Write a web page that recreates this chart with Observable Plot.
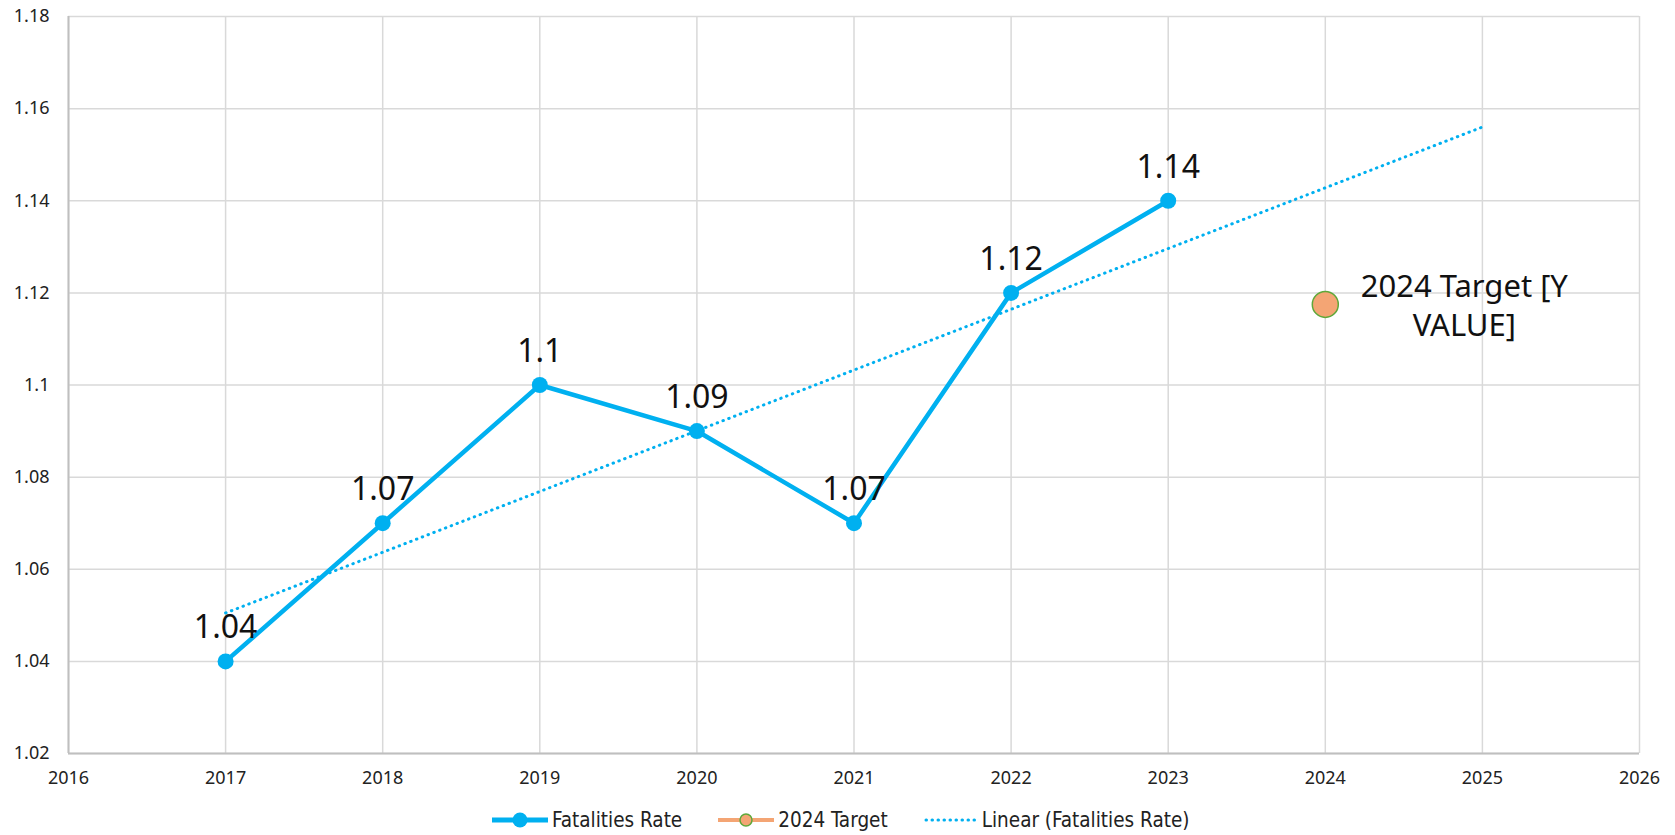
<!DOCTYPE html>
<html>
<head>
<meta charset="utf-8">
<script src="https://cdn.jsdelivr.net/npm/d3@7"></script>
<script src="https://cdn.jsdelivr.net/npm/@observablehq/plot@0.6"></script>
<style>
  html, body { margin: 0; padding: 0; background: #fff; }
  #wrap { position: relative; width: 1675px; height: 835px; overflow: hidden; }
  #legend { position: absolute; left: 492px; top: 804px; height: 32px; display: flex; align-items: center;
    font-family: "Liberation Sans Narrow", "DejaVu Sans Condensed", "Roboto", sans-serif; font-size: 20.5px; color: #222; }
  .item { display: flex; align-items: center; margin-right: 36px; }
  .item svg { margin-right: 4px; }
</style>
</head>
<body>
<div id="wrap"></div>
<script>
// ---- data ----
const years = [2017, 2018, 2019, 2020, 2021, 2022, 2023];
const rates = [1.04, 1.07, 1.10, 1.09, 1.07, 1.12, 1.14];
const rateLabels = ["1.04", "1.07", "1.1", "1.09", "1.07", "1.12", "1.14"];
const targetYears = [2024];
const targetValues = [1.1175];
const targetLabels = ["2024 Target [Y\nVALUE]"];
const trendYears = [2017, 2025];
const trendValues = [1.0505, 1.156];
const xTicks = [2016, 2017, 2018, 2019, 2020, 2021, 2022, 2023, 2024, 2025, 2026];
const yTicks = [1.02, 1.04, 1.06, 1.08, 1.10, 1.12, 1.14, 1.16, 1.18];
const yTickLabels = ["1.02", "1.04", "1.06", "1.08", "1.1", "1.12", "1.14", "1.16", "1.18"];
const legendLabels = ["Fatalities Rate", "2024 Target", "Linear (Fatalities Rate)"];

const BLUE = "#00b0f0";
const ORANGE = "#f4a574";
const GREEN = "#5fa83a";
const GRID = "#d9d9d9";

const series = years.map((y, i) => ({year: y, rate: rates[i], label: rateLabels[i]}));
const target = targetYears.map((y, i) => ({year: y, value: targetValues[i], label: targetLabels[i]}));
const trend = trendYears.map((y, i) => ({year: y, value: trendValues[i]}));
const yLabelMap = new Map(yTicks.map((t, i) => [t.toFixed(2), yTickLabels[i]]));

const chart = Plot.plot({
  width: 1675,
  height: 800,
  marginTop: 16,
  marginBottom: 47,
  marginLeft: 68,
  marginRight: 36,
  style: {fontFamily: "'Noto Sans', sans-serif", background: "#fff"},
  x: {domain: [2016, 2026], label: null},
  y: {domain: [1.02, 1.18], label: null},
  marks: [
    Plot.gridX(xTicks, {stroke: GRID, strokeOpacity: 1, strokeWidth: 1.5}),
    Plot.gridY(yTicks, {stroke: GRID, strokeOpacity: 1, strokeWidth: 1.5}),
    Plot.ruleX([2016], {stroke: "#bfbfbf", strokeWidth: 2}),
    Plot.ruleY([1.02], {stroke: "#bfbfbf", strokeWidth: 2}),
    Plot.axisX(xTicks, {tickSize: 0, tickPadding: 18, fontSize: 18, fill: "#222", label: null, tickFormat: d => String(d)}),
    Plot.axisY(yTicks, {tickSize: 0, tickPadding: 19, fontSize: 18, fill: "#222", label: null, tickFormat: d => yLabelMap.get(d.toFixed(2))}),
    Plot.line(trend, {x: "year", y: "value", stroke: BLUE, strokeWidth: 3, strokeDasharray: "0.5 5.7", strokeLinecap: "round"}),
    Plot.line(series, {x: "year", y: "rate", stroke: BLUE, strokeWidth: 4.5}),
    Plot.dot(series, {x: "year", y: "rate", r: 8, fill: BLUE, stroke: "none"}),
    Plot.dot(target, {x: "year", y: "value", r: 13, fill: ORANGE, stroke: GREEN, strokeWidth: 1.5}),
    Plot.text(series, {x: "year", y: "rate", text: "label", dy: -23, lineAnchor: "bottom", fontSize: 32, fill: "#111", letterSpacing: "1px"}),
    Plot.text(target, {x: "year", y: "value", text: "label", dx: 139, lineAnchor: "middle", lineHeight: 1.25, fontSize: 31, fill: "#111", textAnchor: "middle"})
  ]
});
document.getElementById("wrap").appendChild(chart);

// ---- legend ----
const legend = document.createElement("div");
legend.id = "legend";
const swatches = [
  `<svg width="56" height="20"><line x1="0" y1="10" x2="56" y2="10" stroke="${BLUE}" stroke-width="5"/><circle cx="28" cy="10" r="7.5" fill="${BLUE}"/></svg>`,
  `<svg width="56" height="20"><line x1="0" y1="10" x2="56" y2="10" stroke="${ORANGE}" stroke-width="4"/><circle cx="28" cy="10" r="6" fill="${ORANGE}" stroke="${GREEN}" stroke-width="1.5"/></svg>`,
  `<svg width="54" height="20"><line x1="2" y1="10" x2="53" y2="10" stroke="${BLUE}" stroke-width="3" stroke-linecap="round" stroke-dasharray="0.5 5.5"/></svg>`
];
legendLabels.forEach((lab, i) => {
  const it = document.createElement("div");
  it.className = "item";
  it.innerHTML = swatches[i] + `<span>${lab}</span>`;
  legend.appendChild(it);
});
document.getElementById("wrap").appendChild(legend);
</script>
</body>
</html>
